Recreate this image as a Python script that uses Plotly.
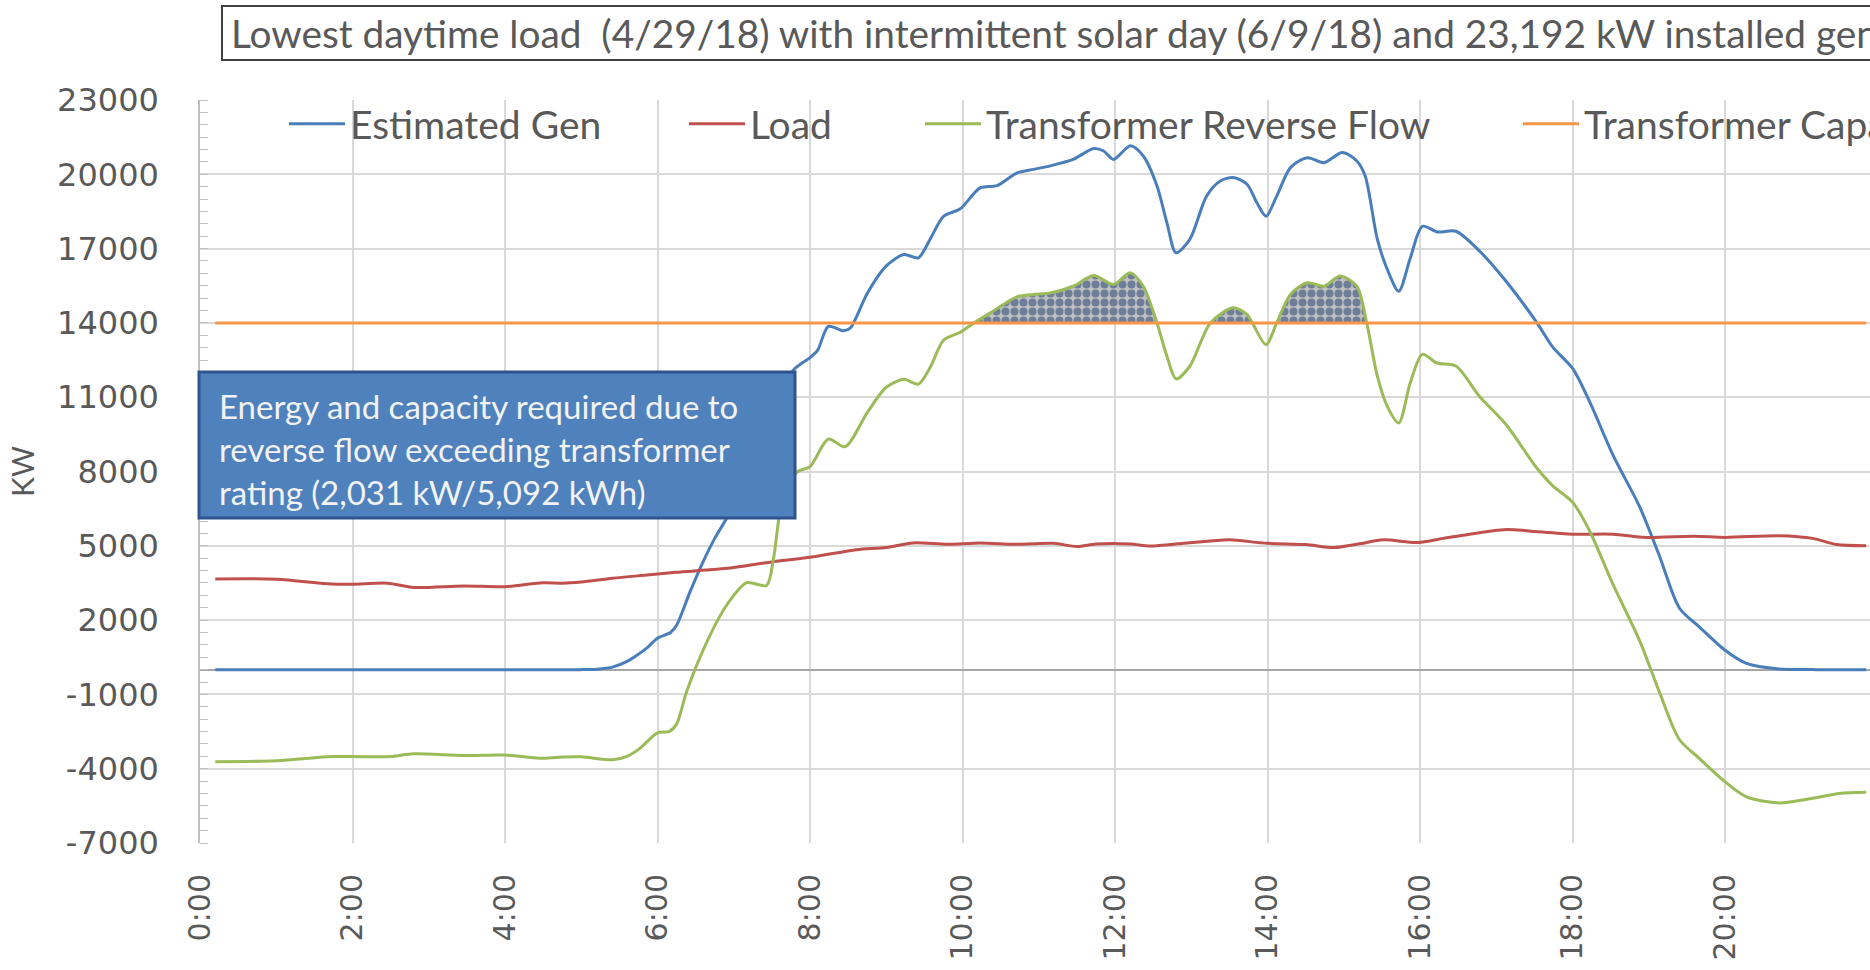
import plotly.graph_objects as go

# ---- data (kW) ----
gen_hours = [0.2, 1.0, 2.0, 3.0, 4.0, 5.0, 5.2, 5.41, 5.6, 5.73, 5.87, 6.0, 6.17, 6.25, 6.43, 6.6, 6.75,
             6.91, 7.1, 7.35, 7.6, 7.78, 8.0, 8.1, 8.24, 8.44, 8.53, 8.75, 9.0, 9.23, 9.42, 9.58, 9.75,
             9.97, 10.23, 10.45, 10.71, 10.93, 11.15, 11.45, 11.72, 11.85, 11.98, 12.2, 12.37, 12.55,
             12.68, 12.8, 12.98, 13.2, 13.38, 13.55, 13.73, 13.86, 13.98, 14.12, 14.3, 14.52, 14.74,
             14.98, 15.17, 15.28, 15.44, 15.57, 15.72, 15.87, 16.03, 16.23, 16.47, 16.78, 17.13, 17.52,
             17.74, 18.0, 18.22, 18.53, 18.88, 19.14, 19.4, 19.66, 20.0, 20.28, 20.71, 21.2, 21.85]
estimated_gen = [0, 0, 0, 0, 0, 0, 20, 100, 330, 580, 900, 1270, 1500, 1790, 3170, 4375, 5300,
                 6130, 7300, 9000, 10900, 12090, 12600, 12900, 13860, 13680, 13800, 15190, 16300, 16760, 16630, 17410, 18300,
                 18610, 19450, 19540, 20050, 20200, 20340, 20600, 21040, 20940, 20600, 21150, 20740, 19530,
                 18040, 16830, 17370, 19120, 19730, 19870, 19600, 18850, 18310, 19120, 20270, 20670, 20470,
                 20880, 20540, 19930, 17370, 16160, 15280, 16600, 17900, 17670, 17700, 16900, 15670, 14060,
                 13020, 12160, 10840, 8660, 6570, 4580, 2490, 1730, 780, 250, 25, 0, 0]

load_hours = [0.2, 1.0, 1.72, 2.0, 2.46, 2.8, 3.46, 4.0, 4.5, 4.76, 5.0, 5.41, 5.86, 6.24, 6.95, 7.43,
              8.05, 8.61, 9.0, 9.35, 9.8, 10.23, 10.67, 10.93, 11.2, 11.5, 11.75, 12.2, 12.46, 12.9,
              13.33, 13.5, 14.0, 14.5, 14.87, 15.2, 15.52, 15.96, 16.3, 16.56, 17.13, 17.43, 18.0,
              18.53, 18.96, 19.6, 20.0, 20.71, 21.15, 21.46, 21.85]
load = [3660, 3650, 3460, 3450, 3490, 3320, 3380, 3350, 3510, 3490, 3540, 3690, 3820, 3930, 4100, 4320,
        4560, 4840, 4930, 5115, 5060, 5115, 5060, 5080, 5100, 4970, 5075, 5075, 4990, 5100,
        5210, 5240, 5100, 5050, 4930, 5080, 5240, 5130, 5300, 5430, 5660, 5600, 5470,
        5470, 5340, 5390, 5340, 5410, 5300, 5050, 5000]

flow_hours = [0.2, 1.0, 1.72, 2.0, 2.5, 2.8, 3.46, 4.0, 4.5, 4.76, 5.0, 5.41, 5.6, 5.76, 6.0, 6.15, 6.25,
              6.38, 6.65, 6.91, 7.17, 7.43, 7.52, 7.65, 7.83, 8.0, 8.24, 8.46, 8.75, 9.0, 9.23, 9.42,
              9.58, 9.75, 9.97, 10.15, 10.41, 10.71, 10.93, 11.15, 11.45, 11.72, 11.98, 12.2, 12.37,
              12.55, 12.68, 12.8, 12.98, 13.25, 13.55, 13.73, 13.8, 13.98, 14.12, 14.3, 14.52, 14.74,
              14.95, 15.17, 15.3, 15.44, 15.57, 15.72, 15.87, 16.03, 16.22, 16.47, 16.78, 17.13, 17.52,
              17.74, 18.0, 18.22, 18.53, 18.88, 19.14, 19.4, 19.66, 20.0, 20.28, 20.71, 21.15, 21.5, 21.85]
reverse_flow = [-3720, -3680, -3510, -3510, -3510, -3400, -3470, -3450, -3580, -3530, -3520, -3640, -3500, -3200, -2550, -2500, -2200,
                -900, 1140, 2620, 3510, 3400, 4470, 7060, 7980, 8200, 9310, 9000, 10380, 11400, 11720, 11530,
                12230, 13300, 13620, 14000, 14490, 15050, 15150, 15210, 15480, 15910, 15550, 16020, 15480,
                14000, 12650, 11740, 12250, 14000, 14610, 14340, 14000, 13120, 14000, 15150, 15620, 15480,
                15890, 15480, 14000, 11840, 10630, 9960, 11570, 12730, 12380, 12260, 11030, 9890, 8180,
                7420, 6760, 5620, 3440, 1160, -920, -2820, -3580, -4530, -5140, -5380, -5190, -5000, -4950]

transformer_cap = 14000

x_tickvals = [0, 2, 4, 6, 8, 10, 12, 14, 16, 18, 20]
x_ticktext = ["0:00", "2:00", "4:00", "6:00", "8:00", "10:00", "12:00", "14:00", "16:00", "18:00", "20:00"]
y_tickvals = [-7000, -4000, -1000, 2000, 5000, 8000, 11000, 14000, 17000, 20000, 23000]
y_ticktext = ["-7000", "-4000", "-1000", "2000", "5000", "8000", "11000", "14000", "17000", "20000", "23000"]

# ---- styling ----
BLUE = "#4a7ebb"
RED = "#c0504d"
GREEN = "#9bbb59"
ORANGE = "#f79646"
TEXT = "#595959"
GRID = "#d9d9d9"
LAB_FONT = "Lato"
TICK_FONT = "DejaVu Sans"

W, H = 1870, 970
ML, MT, MB, MR = 200, 100, 127, 0
PW, PH = W - ML - MR, H - MT - MB


def px_x(px):
    return (px - ML) / PW


def px_y(py):
    return (H - MB - py) / PH


# segments of reverse flow above the transformer rating (hatched area)
fill_x, fill_y = [], []
run_x, run_y = [], []
for t, v in zip(flow_hours, reverse_flow):
    if v >= transformer_cap:
        run_x.append(t)
        run_y.append(v)
    else:
        if len(run_x) > 1:
            fill_x += run_x + [None]
            fill_y += run_y + [None]
        run_x, run_y = [], []

fig = go.Figure()

fig.add_trace(go.Scatter(
    x=fill_x, y=fill_y, mode="lines", fill="toself", connectgaps=False,
    line=dict(width=0, shape="spline", smoothing=0.8),
    fillcolor="#bfbfbf",
    fillpattern=dict(shape=".", fgcolor="#1c3b70", bgcolor="#c0c0c0", size=9, solidity=0.62),
    showlegend=False, hoverinfo="skip",
))

fig.add_trace(go.Scatter(
    x=gen_hours, y=estimated_gen, mode="lines", name="Estimated Gen",
    line=dict(color=BLUE, width=3, shape="spline", smoothing=0.8), legend="legend",
))
fig.add_trace(go.Scatter(
    x=load_hours, y=load, mode="lines", name="Load",
    line=dict(color=RED, width=3, shape="spline", smoothing=0.8), legend="legend2",
))
fig.add_trace(go.Scatter(
    x=flow_hours, y=reverse_flow, mode="lines", name="Transformer Reverse Flow",
    line=dict(color=GREEN, width=3, shape="spline", smoothing=0.8), legend="legend3",
))
fig.add_trace(go.Scatter(
    x=flow_hours, y=[transformer_cap] * len(flow_hours), mode="lines", name="Transformer Capacity",
    line=dict(color=ORANGE, width=3), legend="legend4",
))

legend_common = dict(
    orientation="h", yanchor="middle", y=px_y(124), xanchor="left",
    font=dict(family=LAB_FONT, size=39, color=TEXT),
    bgcolor="rgba(0,0,0,0)", borderwidth=0, itemwidth=56,
)
legend_line_px = [292, 692, 928, 1526]

fig.update_layout(
    width=W, height=H,
    margin=dict(l=ML, r=MR, t=MT, b=MB, autoexpand=False),
    paper_bgcolor="white", plot_bgcolor="white",
    legend=dict(legend_common, x=px_x(legend_line_px[0] - 8)),
    legend2=dict(legend_common, x=px_x(legend_line_px[1] - 8)),
    legend3=dict(legend_common, x=px_x(legend_line_px[2] - 8)),
    legend4=dict(legend_common, x=px_x(legend_line_px[3] - 8)),
    xaxis=dict(
        range=[0, 21.9], tickvals=x_tickvals, ticktext=x_ticktext, tickangle=-90,
        showgrid=True, gridcolor=GRID, gridwidth=1.5, zeroline=False, showline=False,
        ticks="", ticklabelstandoff=24,
        tickfont=dict(family=TICK_FONT, size=30, color=TEXT),
    ),
    yaxis=dict(
        range=[-7000, 23000], tickvals=y_tickvals, ticktext=y_ticktext,
        showgrid=True, gridcolor=GRID, gridwidth=1.5,
        zeroline=True, zerolinecolor="#a6a6a6", zerolinewidth=1.5,
        showline=True, linecolor="#bfbfbf", linewidth=1.5,
        ticks="", ticklabelstandoff=33,
        minor=dict(dtick=500, tick0=-7000, ticks="inside", ticklen=8, tickcolor="#bfbfbf", showgrid=False),
        tickfont=dict(family=TICK_FONT, size=32, color=TEXT),
        title=dict(text="KW", font=dict(family=LAB_FONT, size=30, color=TEXT), standoff=14),
    ),
    shapes=[
        # title frame
        dict(type="rect", xref="paper", yref="paper",
             x0=px_x(222), x1=px_x(1900), y0=px_y(60), y1=px_y(6),
             line=dict(color="#404040", width=2), fillcolor="white", layer="above"),
        # callout box
        dict(type="rect", xref="paper", yref="paper",
             x0=px_x(199), x1=px_x(795), y0=px_y(518), y1=px_y(372),
             line=dict(color="#2f5590", width=3), fillcolor="#4f81bd", layer="above"),
    ],
    annotations=[
        dict(xref="paper", yref="paper", x=px_x(229), y=px_y(33), xanchor="left", yanchor="middle",
             text="Lowest daytime load\u00a0\u00a0(4/29/18) with intermittent solar day (6/9/18) and 23,192 kW installed generation",
             showarrow=False, font=dict(family=LAB_FONT, size=38.8, color=TEXT), align="left"),
        dict(xref="paper", yref="paper", x=px_x(217), y=px_y(449), xanchor="left", yanchor="middle",
             text="Energy and capacity required due to<br>reverse flow exceeding transformer<br>rating (2,031 kW/5,092 kWh)",
             showarrow=False, font=dict(family=LAB_FONT, size=33, color="#f2f2f2"), align="left"),
    ],
)

fig.write_html("out.html")
